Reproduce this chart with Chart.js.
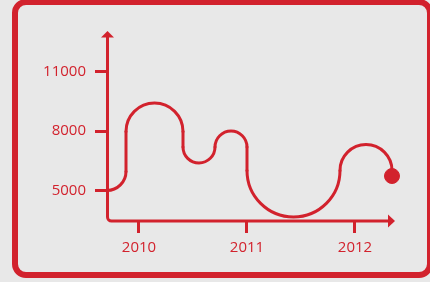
<!DOCTYPE html>
<html><head><meta charset="utf-8">
<script src="https://cdn.jsdelivr.net/npm/chart.js@4.4.1/dist/chart.umd.min.js"></script>
<style>
html,body{margin:0;padding:0;background:#e8e8e8;width:430px;height:282px;overflow:hidden;}
#frame{position:absolute;left:12px;top:-1px;width:421px;height:279px;box-sizing:border-box;border:6px solid #d2222d;border-radius:14px;background:#e8e8e8;}
#c{position:absolute;left:0;top:0;}
</style></head><body>
<div id="frame"></div>
<canvas id="c" width="430" height="282"></canvas>
<script>
const RED = '#d2222d';
const xTickLabels = [2010, 2011, 2012];
const yTickLabels = [5000, 8000, 11000];
// The curve (x in years, y in values).
// pathPen: 1 = the stretch from this point to the next is drawn, 0 = invisible guide stretch
const pathYears = [
  2009.5796, 2009.7037, 2009.8278, 2009.8796, 2009.8278,
  2009.8796, 2009.8796, 2009.8796, 2009.8796,
  2009.9569, 2009.8796, 2009.9569, 2010.1435, 2010.3301, 2010.4074, 2010.3301,
  2010.4074, 2010.4074, 2010.4074, 2010.4074,
  2010.4508, 2010.4074, 2010.4508, 2010.5556, 2010.6603, 2010.7037, 2010.6603,
  2010.7471, 2010.7037, 2010.7471, 2010.8519, 2010.9566, 2011.0000, 2010.9566,
  2011.0000, 2011.0000, 2011.0000, 2011.0000,
  2011.1261, 2011.0000, 2011.1261, 2011.4306, 2011.7350, 2011.8611, 2011.7350,
  2011.9317, 2011.8611, 2011.9317, 2012.1019, 2012.2720, 2012.3426, 2012.2720,
  2012.3426, 2012.3426, 2012.3426
];
const pathValues = [
  5282, 5000, 5282, 5958, 6634,
  4950, 5958, 7975, 8984,
  6959, 7975, 8992, 9413, 8992, 7975, 6959,
  8984, 7975, 7194, 6185,
  7764, 7194, 6623, 6387, 6623, 7194, 7764,
  6623, 7194, 7764, 8001, 7764, 7194, 6623,
  8202, 7194, 6009, 5000,
  7667, 6009, 4350, 3664, 4350, 6009, 7667,
  5082, 6009, 6935, 7320, 6935, 6009, 5082,
  7017, 6009, 5731
];
const pathPen = [
  0, 1, 1, 0, 0,
  0, 1, 0, 0,
  0, 1, 1, 1, 1, 0, 0,
  0, 1, 0, 0,
  0, 1, 1, 1, 1, 0, 0,
  0, 1, 1, 1, 1, 0, 0,
  0, 1, 0, 0,
  0, 1, 1, 1, 1, 0, 0,
  0, 1, 1, 1, 1, 0, 0,
  0, 1, 0
];
const xMin = 2009.7037, xMax = 2012.3704;
const yMin = 3462, yMax = 13043;

const axesPlugin = {
  id: 'axesArrows',
  beforeDatasetsDraw(chart) {
    const {ctx, chartArea} = chart;
    const L = chartArea.left + 0.5, B = chartArea.bottom, T = chartArea.top, R = chartArea.right;
    const r = 4;
    ctx.save();
    ctx.strokeStyle = RED; ctx.fillStyle = RED; ctx.lineWidth = 3;
    ctx.beginPath();
    ctx.moveTo(L, T + 5);
    ctx.lineTo(L, B - r);
    ctx.arcTo(L, B, L + r, B, r);
    ctx.lineTo(R - 6, B);
    ctx.stroke();
    ctx.beginPath();
    ctx.moveTo(L, T); ctx.lineTo(L - 6.5, T + 6.5); ctx.lineTo(L + 6.5, T + 6.5); ctx.closePath(); ctx.fill();
    ctx.beginPath();
    ctx.moveTo(R, B); ctx.lineTo(R - 7, B - 6.5); ctx.lineTo(R - 7, B + 6.5); ctx.closePath(); ctx.fill();
    ctx.restore();
  }
};

const last = pathYears.length - 1;
new Chart(document.getElementById('c'), {
  type: 'scatter',
  data: {
    datasets: [{
      data: pathYears.map((x, i) => ({x, y: pathValues[i]})),
      showLine: true,
      borderColor: RED,
      borderWidth: 3,
      tension: 0.4,
      capBezierPoints: false,
      borderJoinStyle: 'round',
      borderCapStyle: 'round',
      segment: {borderColor: c => pathPen[c.p0DataIndex] ? RED : 'rgba(0,0,0,0)'},
      backgroundColor: RED,
      pointBackgroundColor: RED,
      pointBorderColor: RED,
      pointBorderWidth: 1,
      pointRadius: c => c.dataIndex === last ? 7.5 : 0,
      pointHoverRadius: c => c.dataIndex === last ? 7.5 : 0,
      clip: false
    }]
  },
  options: {
    responsive: false,
    animation: false,
    events: [],
    layout: {padding: {left: 0, right: 35, top: 31, bottom: 0}},
    plugins: {legend: {display: false}, tooltip: {enabled: false}},
    scales: {
      x: {
        type: 'linear', min: xMin, max: xMax,
        afterBuildTicks: s => { s.ticks = xTickLabels.map(v => ({value: v})); },
        afterFit: s => { s.height = 61; },
        border: {display: false},
        grid: {drawOnChartArea: false, drawTicks: true, tickLength: 12, tickWidth: 3, tickColor: RED},
        ticks: {color: RED, padding: 6, font: {family: 'Open Sans', size: 15}, callback: v => String(v), maxRotation: 0}
      },
      y: {
        type: 'linear', min: yMin, max: yMax,
        afterBuildTicks: s => { s.ticks = yTickLabels.map(v => ({value: v})); },
        afterFit: s => { s.width = 107; },
        border: {display: false},
        grid: {drawOnChartArea: false, drawTicks: true, tickLength: 12, tickWidth: 3, tickColor: RED},
        ticks: {color: RED, padding: 9, font: {family: 'Open Sans', size: 15}, callback: v => String(v)}
      }
    }
  },
  plugins: [axesPlugin]
});
</script>
</body></html>
